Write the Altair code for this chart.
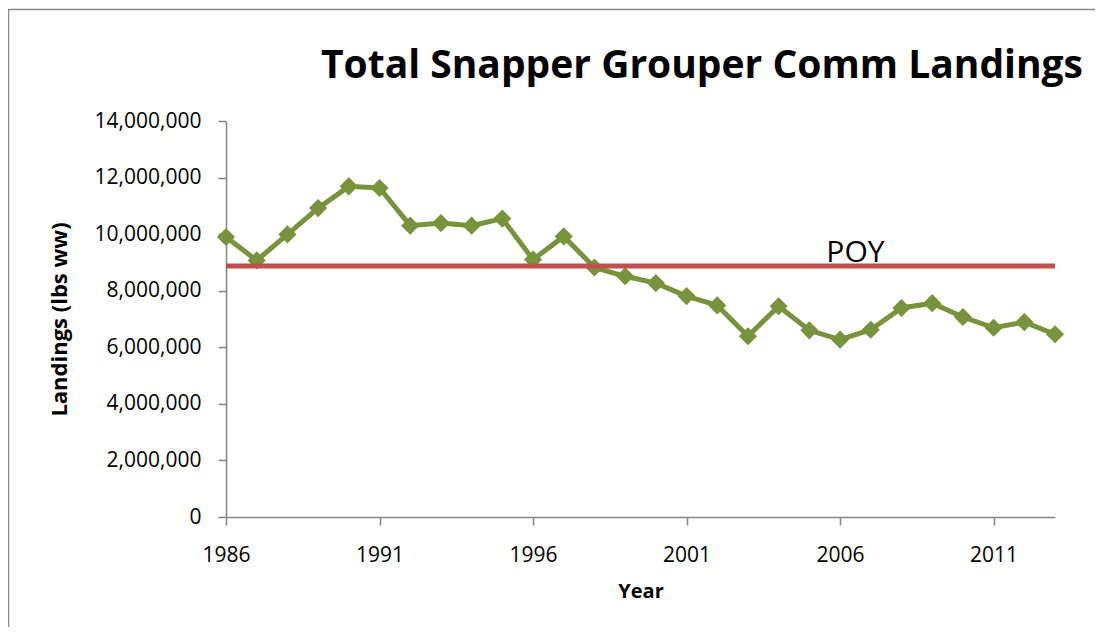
import altair as alt
import pandas as pd

years = list(range(1986, 2014))
landings = [9900000, 9070000, 9990000, 10920000, 11690000, 11630000, 10300000,
            10390000, 10300000, 10550000, 9100000, 9920000, 8820000, 8510000,
            8270000, 7810000, 7480000, 6390000, 7450000, 6600000, 6270000,
            6620000, 7390000, 7560000, 7070000, 6690000, 6890000, 6460000]
poy_value = 8870000
poy_label = "POY"
poy_label_year = 2006.5
poy_label_value = 9000000
x_ticks = [1986, 1991, 1996, 2001, 2006, 2011]
y_ticks = [0, 2000000, 4000000, 6000000, 8000000, 10000000, 12000000, 14000000]
title_text = "Total Snapper Grouper Comm Landings"
x_title = "Year"
y_title = "Landings (lbs ww)"

FONT = "Open Sans"
GREEN = "#77933C"
RED = "#C0504D"
AXIS_GREY = "#868686"

df = pd.DataFrame({"Year": years, "Landings": landings})
poy_df = pd.DataFrame({"x1": [years[0]], "x2": [years[-1]], "y": [poy_value]})
lab_df = pd.DataFrame({"x": [poy_label_year], "y": [poy_label_value], "t": [poy_label]})
title_df = pd.DataFrame({"t": [title_text]})

xscale = alt.Scale(domain=[years[0], years[-1]], nice=False, zero=False)
yscale = alt.Scale(domain=[0, 14000000], nice=False)

xaxis = alt.Axis(values=x_ticks, format="d", grid=False, domainColor=AXIS_GREY,
                 domainWidth=1.5, tickColor=AXIS_GREY, tickWidth=1.5, tickSize=8,
                 labelFont=FONT, labelFontSize=21, labelColor="#000000", labelPadding=19,
                 title=x_title, titleFont=FONT, titleFontSize=20, titleFontWeight="bold",
                 titleColor="#000000", titlePadding=16, labelFlush=False)
yaxis = alt.Axis(values=y_ticks, format=",d", grid=False, domainColor=AXIS_GREY,
                 domainWidth=1.5, tickColor=AXIS_GREY, tickWidth=1.5, tickSize=8,
                 labelFont=FONT, labelFontSize=21, labelColor="#000000", labelPadding=17,
                 title=y_title, titleFont=FONT, titleFontSize=22, titleFontWeight="bold",
                 titleColor="#000000", titlePadding=23)

border = alt.Chart(pd.DataFrame({"a": [0]})).mark_rect(
    fill=None, stroke="#8a8a8a", strokeWidth=1.5
).encode(x=alt.value(-217.5), y=alt.value(-111.5), x2=alt.value(900), y2=alt.value(600))

title = alt.Chart(title_df).mark_text(font=FONT, fontSize=39, fontWeight="bold",
                                       color="#000000", align="center", baseline="middle").encode(
    x=alt.value(476), y=alt.value(-55), text="t:N"
)

line = alt.Chart(df).mark_line(color=GREEN, strokeWidth=5).encode(
    x=alt.X("Year:Q", scale=xscale, axis=xaxis),
    y=alt.Y("Landings:Q", scale=yscale, axis=yaxis),
)
pts = alt.Chart(df).mark_point(shape="diamond", filled=True, color=GREEN, size=330, opacity=1).encode(
    x=alt.X("Year:Q", scale=xscale),
    y=alt.Y("Landings:Q", scale=yscale),
)
poy = alt.Chart(poy_df).mark_rule(color=RED, strokeWidth=5).encode(
    x=alt.X("x1:Q", scale=xscale), x2="x2:Q", y=alt.Y("y:Q", scale=yscale)
)
poy_text = alt.Chart(lab_df).mark_text(font=FONT, fontSize=30, color="#000000",
                                        align="center", baseline="alphabetic").encode(
    x=alt.X("x:Q", scale=xscale), y=alt.Y("y:Q", scale=yscale), text="t:N"
)

chart = alt.layer(border, title, line, pts, poy, poy_text).properties(
    width=829, height=396,
    autosize=alt.AutoSizeParams(type="none"),
    padding={"left": 218, "top": 113, "right": 40, "bottom": 110},
).configure_view(stroke=None)

chart.save("out.html", embed_options={"renderer": "svg", "actions": False})
